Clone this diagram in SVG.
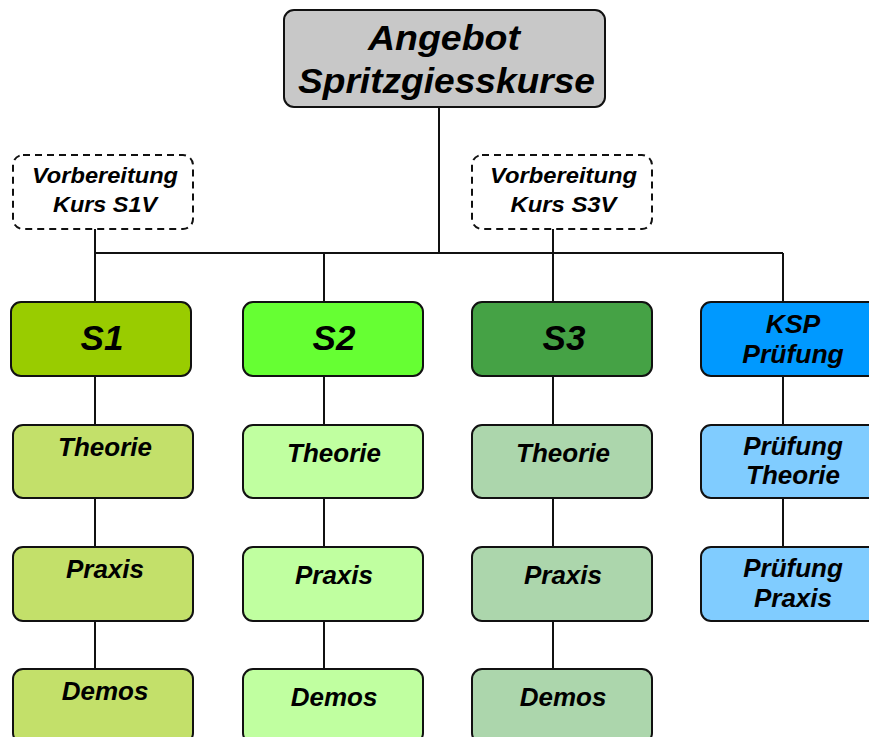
<svg xmlns="http://www.w3.org/2000/svg" width="869" height="737" viewBox="0 0 869 737">
<style>
.box{stroke:#111;stroke-width:2}
.dash{fill:#fff;stroke:#111;stroke-width:2;stroke-dasharray:7 5}
.t{font-family:"Liberation Sans",Arial,sans-serif;font-weight:bold;font-style:italic;fill:#000;text-anchor:middle}
.conn{fill:none;stroke:#111;stroke-width:2}
</style>
<rect width="869" height="737" fill="#fff"/>
<g id="connectors" class="conn">
<path d="M439 107V253"/>
<path d="M95 253H783"/>
<path d="M95 229V302"/>
<path d="M553 229V302"/>
<path d="M324 253V302"/>
<path d="M783 253V302"/>
<path d="M95 376V425M95 498V547M95 621V669"/>
<path d="M324 376V425M324 498V547M324 621V669"/>
<path d="M553 376V425M553 498V547M553 621V669"/>
<path d="M783 376V425M783 498V547"/>
</g>
<g id="top"><rect class="box" x="284" y="10" width="321" height="97" rx="10" fill="#c8c8c8"/>
<text class="t" x="444" y="50" font-size="35" textLength="152" lengthAdjust="spacingAndGlyphs">Angebot</text>
<text class="t" x="446.5" y="93" font-size="35" textLength="297" lengthAdjust="spacingAndGlyphs">Spritzgiesskurse</text></g>
<g id="s1v"><rect class="dash" x="13" y="155" width="180" height="74" rx="10"/>
<text class="t" x="105" y="183" font-size="22.5" textLength="146" lengthAdjust="spacingAndGlyphs">Vorbereitung</text>
<text class="t" x="105" y="212" font-size="22.5" textLength="104" lengthAdjust="spacingAndGlyphs">Kurs S1V</text></g>
<g id="s3v"><rect class="dash" x="472" y="155" width="180" height="74" rx="10"/>
<text class="t" x="563.5" y="183" font-size="22.5" textLength="147" lengthAdjust="spacingAndGlyphs">Vorbereitung</text>
<text class="t" x="563.5" y="212" font-size="22.5" textLength="106" lengthAdjust="spacingAndGlyphs">Kurs S3V</text></g>
<g id="s1"><rect class="box" x="11" y="302" width="180" height="74" rx="10" fill="#99cc00"/>
<text class="t" x="102" y="350" font-size="35">S1</text></g>
<g id="s2"><rect class="box" x="243" y="302" width="180" height="74" rx="10" fill="#66ff33"/>
<text class="t" x="334" y="350" font-size="35">S2</text></g>
<g id="s3"><rect class="box" x="472" y="302" width="180" height="74" rx="10" fill="#45a245"/>
<text class="t" x="564" y="350" font-size="35">S3</text></g>
<g id="ksp"><rect class="box" x="701" y="302" width="180" height="74" rx="10" fill="#0099ff"/>
<text class="t" x="793" y="333" font-size="26.5">KSP</text>
<text class="t" x="793" y="363" font-size="26.5">Prüfung</text></g>
<g id="s1-theorie"><rect class="box" x="13" y="425" width="180" height="73" rx="10" fill="#c3e06a"/>
<text class="t" x="105" y="456" font-size="26">Theorie</text></g>
<g id="s1-praxis"><rect class="box" x="13" y="547" width="180" height="74" rx="10" fill="#c3e06a"/>
<text class="t" x="105" y="578" font-size="26">Praxis</text></g>
<g id="s1-demos"><rect class="box" x="13" y="669" width="180" height="74" rx="10" fill="#c3e06a"/>
<text class="t" x="105" y="700" font-size="26">Demos</text></g>
<g id="s2-theorie"><rect class="box" x="243" y="425" width="180" height="73" rx="10" fill="#c0ffa0"/>
<text class="t" x="334" y="462" font-size="26">Theorie</text></g>
<g id="s2-praxis"><rect class="box" x="243" y="547" width="180" height="74" rx="10" fill="#c0ffa0"/>
<text class="t" x="334" y="584" font-size="26">Praxis</text></g>
<g id="s2-demos"><rect class="box" x="243" y="669" width="180" height="74" rx="10" fill="#c0ffa0"/>
<text class="t" x="334" y="706" font-size="26">Demos</text></g>
<g id="s3-theorie"><rect class="box" x="472" y="425" width="180" height="73" rx="10" fill="#acd6ac"/>
<text class="t" x="563" y="462" font-size="26">Theorie</text></g>
<g id="s3-praxis"><rect class="box" x="472" y="547" width="180" height="74" rx="10" fill="#acd6ac"/>
<text class="t" x="563" y="584" font-size="26">Praxis</text></g>
<g id="s3-demos"><rect class="box" x="472" y="669" width="180" height="74" rx="10" fill="#acd6ac"/>
<text class="t" x="563" y="706" font-size="26">Demos</text></g>
<g id="ksp-theorie"><rect class="box" x="701" y="425" width="180" height="73" rx="10" fill="#80ccff"/>
<text class="t" x="793" y="455" font-size="26">Prüfung</text>
<text class="t" x="793" y="484" font-size="26">Theorie</text></g>
<g id="ksp-praxis"><rect class="box" x="701" y="547" width="180" height="74" rx="10" fill="#80ccff"/>
<text class="t" x="793" y="577" font-size="26">Prüfung</text>
<text class="t" x="793" y="607" font-size="26">Praxis</text></g>
</svg>
